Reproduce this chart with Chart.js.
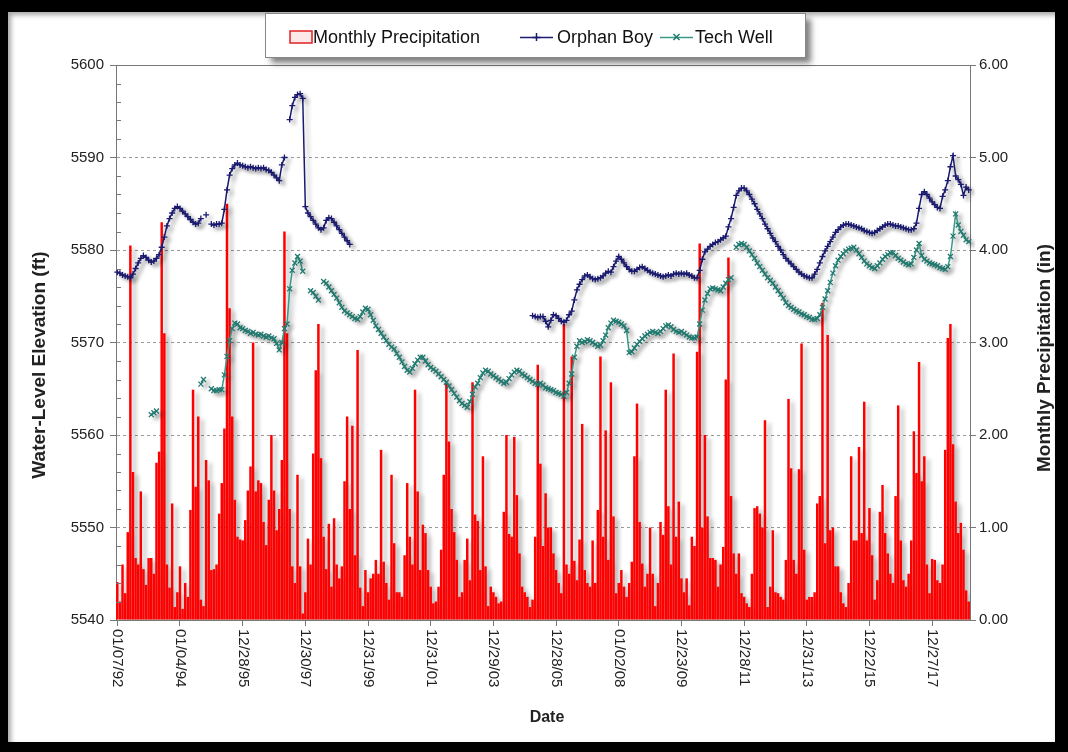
<!DOCTYPE html>
<html>
<head>
<meta charset="utf-8">
<script src="https://cdn.jsdelivr.net/npm/chart.js@4.4.1/dist/chart.umd.min.js"></script>
<style>
  html, body { margin: 0; padding: 0; background: #000; }
  #frame {
    position: absolute; left: 8px; top: 12px; width: 1047px; height: 730px;
    background: #fff; box-shadow: inset 3px 3px 5px rgba(0,0,0,0.35);
  }
  #chart { position: absolute; left: 0; top: 0; }
</style>
</head>
<body>
<div id="frame"><canvas id="chart" width="1047" height="730"></canvas></div>
<script>
const FONT = '"Liberation Sans", Arial, sans-serif';

// tick labels on the date axis, one every 24 months
const tickDates = ['01/07/92', '01/04/94', '12/28/95', '12/30/97', '12/31/99', '12/31/01', '12/29/03',
  '12/28/05', '01/02/08', '12/23/09', '12/28/11', '12/31/13', '12/22/15', '12/27/17'];

// monthly precipitation (in), Jan 1992 .. Mar 2019
const precipitation = [
  0.41, 0.2, 0.6, 0.29, 0.95, 4.05, 1.6, 0.67, 0.6, 1.39, 0.55, 0.38,      // 1992
  0.67, 0.67, 0.5, 1.7, 1.82, 4.3, 3.1, 0.6, 0.35, 1.26, 0.14, 0.3,        // 1993
  0.58, 0.12, 0.4, 0.25, 1.19, 2.49, 1.44, 2.2, 0.22, 0.15, 1.73, 1.51,    // 1994
  0.54, 0.55, 0.6, 1.15, 1.48, 2.07, 4.5, 3.37, 2.2, 1.3, 0.9, 0.87,       // 1995
  0.86, 1.08, 1.4, 1.66, 3.0, 1.39, 1.51, 1.48, 1.06, 0.81, 1.3, 2.0,      // 1996
  1.4, 0.97, 1.2, 1.73, 4.2, 3.1, 1.2, 0.58, 0.4, 1.57, 0.58, 0.07,        // 1997
  0.3, 0.88, 0.6, 1.8, 2.7, 3.2, 1.75, 0.9, 0.55, 1.04, 0.36, 1.1,         // 1998
  0.6, 0.45, 0.58, 1.5, 2.2, 1.2, 2.1, 0.7, 2.92, 0.35, 0.15, 0.54,        // 1999
  0.3, 0.45, 0.5, 0.65, 0.5, 1.84, 0.63, 0.4, 0.22, 1.57, 0.83, 0.3,       // 2000
  0.3, 0.25, 0.7, 1.48, 0.9, 0.6, 2.49, 1.39, 0.54, 1.03, 0.94, 0.54,      // 2001
  0.36, 0.18, 0.2, 0.36, 0.76, 1.57, 2.56, 1.93, 1.2, 0.95, 0.65, 0.25,    // 2002
  0.3, 0.65, 0.88, 0.43, 2.57, 1.14, 1.07, 0.54, 1.77, 0.58, 0.15, 0.36,   // 2003
  0.3, 0.25, 0.18, 0.2, 1.17, 2.0, 0.93, 0.9, 1.98, 1.35, 0.72, 0.36,      // 2004
  0.3, 0.25, 0.14, 0.22, 0.9, 2.76, 1.69, 0.8, 1.37, 1.0, 1.0, 0.72,       // 2005
  0.54, 0.4, 0.29, 3.2, 0.6, 0.5, 2.85, 0.64, 0.43, 0.87, 2.12, 0.54,      // 2006
  0.4, 0.36, 0.86, 0.4, 1.19, 2.85, 0.9, 2.05, 0.65, 2.57, 1.12, 0.29,     // 2007
  0.4, 0.54, 0.36, 0.25, 0.4, 0.63, 1.77, 2.34, 1.06, 0.61, 0.36, 0.5,     // 2008
  1.0, 0.5, 0.15, 0.4, 1.06, 0.92, 2.49, 1.23, 0.6, 2.88, 0.9, 1.28,       // 2009
  0.45, 0.3, 0.45, 0.16, 0.9, 0.8, 2.9, 4.07, 1.0, 2.0, 1.12, 0.67,        // 2010
  0.67, 0.65, 0.36, 0.6, 0.79, 2.6, 3.92, 1.34, 0.72, 0.5, 0.72, 0.29,     // 2011
  0.25, 0.18, 0.14, 0.5, 1.21, 1.23, 1.15, 1.0, 2.16, 0.14, 0.36, 0.97,    // 2012
  0.3, 0.29, 0.25, 0.22, 0.65, 2.39, 1.64, 0.65, 0.5, 1.63, 2.99, 0.76,    // 2013
  0.22, 0.25, 0.25, 0.3, 1.26, 1.34, 3.43, 0.83, 3.08, 0.97, 1.0, 0.58,    // 2014
  0.58, 0.3, 0.18, 0.14, 0.4, 1.77, 0.86, 0.86, 1.87, 0.94, 2.36, 0.86,    // 2015
  1.21, 0.7, 0.22, 0.43, 1.17, 1.46, 0.94, 0.72, 0.5, 0.4, 1.34, 2.32,     // 2016
  0.86, 0.43, 0.36, 0.5, 0.86, 2.04, 1.59, 2.79, 1.5, 1.77, 0.6, 0.29,     // 2017
  0.66, 0.65, 0.43, 0.4, 0.6, 1.84, 3.05, 3.2, 1.9, 1.28, 0.94, 1.05,      // 2018
  0.76, 0.32, 0.2                                                          // 2019
];

// Orphan Boy water level (ft), same months, null = no reading
const orphanBoy = [
  5577.6, 5577.5, 5577.3, 5577.2, 5577.1, 5577.0, 5577.4, 5578.0, 5578.6, 5579.1, 5579.4, 5579.2,
  5578.9, 5578.7, 5578.8, 5579.1, 5579.5, 5580.3, 5581.4, 5582.6, 5583.4, 5584.0, 5584.5, 5584.7,
  5584.5, 5584.2, 5583.9, 5583.6, 5583.3, 5583.0, 5582.8, 5582.9, 5583.4, null, 5583.8, null,
  5582.8, 5582.7, 5582.8, 5582.8, 5582.9, 5584.4, 5586.5, 5588.1, 5588.8, 5589.2, 5589.4, 5589.2,
  5589.1, 5589.0, 5588.9, 5589.0, 5588.9, 5588.8, 5588.9, 5588.8, 5588.9, 5588.7, 5588.6, 5588.4,
  5588.1, 5587.8, 5587.5, 5589.2, 5590.0, null, 5594.1, 5595.6, 5596.5, 5596.8, 5596.9, 5596.4,
  5584.7, 5584.0, 5583.6, 5583.2, 5582.8, 5582.4, 5582.2, 5582.4, 5583.2, 5583.5, 5583.4, 5583.0,
  5582.6, 5582.2, 5581.8, 5581.4, 5581.0, 5580.6, null, null, null, null, null, null,
  null, null, null, null, null, null, null, null, null, null, null, null,
  null, null, null, null, null, null, null, null, null, null, null, null,
  null, null, null, null, null, null, null, null, null, null, null, null,
  null, null, null, null, null, null, null, null, null, null, null, null,
  null, null, null, null, null, null, null, null, null, null, null, null,
  null, null, null, 5572.9, 5572.8, 5572.7, 5572.8, 5572.8, 5572.3, 5571.7, 5572.4, 5573.0,
  5572.9, 5572.6, 5572.3, 5572.2, 5572.4, 5573.0, 5573.4, 5574.6, 5575.7, 5576.3, 5576.8, 5577.2,
  5577.3, 5577.1, 5576.9, 5576.8, 5576.9, 5577.0, 5577.2, 5577.5, 5577.7, 5577.6, 5578.2, 5578.8,
  5579.3, 5579.0, 5578.6, 5578.2, 5577.9, 5577.7, 5577.7, 5577.9, 5578.1, 5578.2, 5578.0, 5577.8,
  5577.6, 5577.5, 5577.4, 5577.3, 5577.2, 5577.1, 5577.2, 5577.3, 5577.2, 5577.4, 5577.5, 5577.4,
  5577.5, 5577.4, 5577.5, 5577.3, 5577.2, 5577.0, 5577.0, 5577.8, 5579.0, 5579.8, 5580.1, 5580.4,
  5580.6, 5580.8, 5580.9, 5581.1, 5581.3, 5581.5, 5582.5, 5583.4, 5584.6, 5585.9, 5586.4, 5586.7,
  5586.7, 5586.4, 5586.0, 5585.5, 5585.0, 5584.4, 5583.9, 5583.4, 5582.8, 5582.3, 5581.8, 5581.3,
  5580.9, 5580.4, 5580.0, 5579.5, 5579.1, 5578.8, 5578.5, 5578.2, 5577.9, 5577.6, 5577.4, 5577.2,
  5577.1, 5577.0, 5577.0, 5577.4, 5577.9, 5578.6, 5579.3, 5579.9, 5580.4, 5580.9, 5581.4, 5581.9,
  5582.2, 5582.5, 5582.7, 5582.8, 5582.8, 5582.7, 5582.6, 5582.5, 5582.4, 5582.3, 5582.1, 5582.0,
  5581.9, 5581.8, 5581.9, 5582.1, 5582.3, 5582.5, 5582.7, 5582.8, 5582.8, 5582.7, 5582.6, 5582.6,
  5582.5, 5582.4, 5582.3, 5582.2, 5582.2, 5582.3, 5582.9, 5584.5, 5586.0, 5586.3, 5586.0, 5585.6,
  5585.2, 5584.9, 5584.6, 5584.5, 5585.8, 5586.5, 5587.5, 5589.0, 5590.2, 5588.0, 5587.6, 5587.1,
  5585.9, 5586.8, 5586.5
];

// Tech Well water level (ft)
const techWell = [
  null, null, null, null, null, null, null, null, null, null, null, null,
  null, 5562.2, 5562.4, 5562.6, null, null, null, null, null, null, null, null,
  null, null, null, null, null, null, null, null, 5565.5, 5566.0, null, null,
  5565.0, 5564.8, 5564.8, 5564.9, 5564.9, 5566.5, 5568.5, 5570.2, 5571.5, 5572.1, 5572.0, 5571.6,
  5571.5, 5571.3, 5571.2, 5571.0, 5571.1, 5570.9, 5570.8, 5570.9, 5570.7, 5570.6, 5570.7, 5570.5,
  5570.4, 5569.9, 5569.2, 5570.0, 5571.5, 5572.0, 5575.8, 5577.8, 5578.6, 5579.3, 5578.8, 5577.7,
  null, null, 5575.6, 5575.4, 5575.0, 5574.6, null, 5576.6, 5576.4, 5576.0, 5575.6, 5575.2,
  5574.8, 5574.3, 5573.8, 5573.4, 5573.2, 5573.0, 5572.8, 5572.6, 5572.5, 5572.8, 5573.3, 5573.7,
  5573.6, 5573.0, 5572.4, 5571.8, 5571.4, 5571.0, 5570.6, 5570.2, 5569.8, 5569.5, 5569.3, 5568.8,
  5568.4, 5567.9, 5567.4, 5567.0, 5566.8, 5567.2, 5567.7, 5568.1, 5568.4, 5568.4, 5568.0, 5567.6,
  5567.3, 5567.1, 5566.9, 5566.6, 5566.3, 5566.0, 5565.7, 5565.3, 5564.9, 5564.5, 5564.1, 5563.7,
  5563.4, 5563.2, 5563.0, 5563.6, 5564.4, 5565.2, 5565.6, 5566.2, 5566.7, 5567.0, 5566.9, 5566.6,
  5566.4, 5566.2, 5566.0, 5565.8, 5565.6, 5565.7, 5566.1, 5566.5, 5566.8, 5567.0, 5566.9, 5566.6,
  5566.4, 5566.2, 5566.0, 5565.8, 5565.6, 5565.5, 5565.6, 5565.4, 5565.1, 5565.0, 5564.9, 5564.8,
  5564.6, 5564.5, 5564.4, 5564.2, 5564.6, 5565.6, 5566.6, 5568.4, 5569.6, 5570.2, 5570.0, 5570.1,
  5570.3, 5570.2, 5570.0, 5569.8, 5569.6, 5569.7, 5570.2, 5570.8, 5571.6, 5572.1, 5572.4, 5572.3,
  5572.2, 5572.0, 5571.8, 5571.3, 5568.9, 5569.0, 5569.4, 5569.8, 5570.1, 5570.4, 5570.7, 5570.9,
  5571.1, 5571.2, 5571.1, 5571.0, 5571.2, 5571.5, 5571.8, 5571.9, 5571.7, 5571.4, 5571.2, 5571.1,
  5571.2, 5571.0, 5570.8, 5570.6, 5570.5, 5570.5, 5570.6, 5572.0, 5573.5, 5574.6, 5575.3, 5575.8,
  5575.9, 5575.8, 5575.7, 5575.6, 5576.0, 5576.4, 5576.8, 5577.0, null, 5580.3, 5580.6, 5580.7,
  5580.6, 5580.3, 5579.9, 5579.5, 5579.1, 5578.6, 5578.2, 5577.8, 5577.4, 5577.0, 5576.7, 5576.4,
  5576.0, 5575.6, 5575.2, 5574.8, 5574.3, 5574.0, 5573.8, 5573.6, 5573.4, 5573.3, 5573.1, 5573.0,
  5572.8, 5572.7, 5572.5, 5572.5, 5572.6, 5573.0, 5573.8, 5574.7, 5575.6, 5576.5, 5577.5, 5578.3,
  5578.9, 5579.3, 5579.6, 5579.9, 5580.1, 5580.2, 5580.3, 5580.0, 5579.6, 5579.2, 5578.8, 5578.5,
  5578.3, 5578.1, 5578.0, 5578.3, 5578.6, 5579.0, 5579.3, 5579.5, 5579.7, 5579.7, 5579.4, 5579.1,
  5578.9, 5578.7, 5578.5, 5578.4, 5578.5, 5579.2, 5580.0, 5580.7, 5579.4, 5579.0, 5578.8, 5578.6,
  5578.5, 5578.4, 5578.3, 5578.1, 5578.0, 5577.9, 5578.2, 5579.3, 5581.5, 5583.9, 5582.7, 5582.0,
  5581.6, 5581.1, 5580.9
];

// one category per month
const months = [];
for (let i = 0; i < precipitation.length; i++) {
  months.push((i % 12 + 1) + '/' + (1992 + Math.floor(i / 12)));
}

const legendItems = [
  { label: 'Monthly Precipitation', kind: 'bar', x: 282, text: 305 },
  { label: 'Orphan Boy', kind: 'ob', x: 512, text: 549 },
  { label: 'Tech Well', kind: 'tw', x: 652, text: 687 }
];

const shade = {
  id: 'shade',
  beforeDatasetDraw(chart, args) {
    const ctx = chart.ctx;
    ctx.save();
    ctx.shadowColor = args.meta.type === 'bar' ? 'rgba(0,0,0,0.3)' : 'rgba(0,0,0,0.3)';
    ctx.shadowBlur = 4;
    ctx.shadowOffsetX = 4;
    ctx.shadowOffsetY = 3;
  },
  afterDatasetDraw(chart) {
    chart.ctx.restore();
  }
};

const decor = {
  id: 'decor',
  afterDraw(chart) {
    const { ctx, chartArea: a, scales } = chart;
    ctx.save();

    // top edge of the plot area
    ctx.strokeStyle = '#777';
    ctx.lineWidth = 1;
    ctx.beginPath();
    ctx.moveTo(a.left, Math.round(a.top) + 0.5);
    ctx.lineTo(a.right, Math.round(a.top) + 0.5);
    ctx.stroke();

    // minor ticks on the left axis
    for (let v = 5542; v < 5600; v += 2) {
      if (v % 10 === 0) continue;
      const py = Math.round(scales.y.getPixelForValue(v)) + 0.5;
      ctx.beginPath();
      ctx.moveTo(a.left, py);
      ctx.lineTo(a.left + 5, py);
      ctx.stroke();
    }

    // date labels, turned to read downward
    ctx.fillStyle = '#222';
    ctx.font = '15px ' + FONT;
    ctx.textAlign = 'left';
    ctx.textBaseline = 'middle';
    tickDates.forEach((lab, i) => {
      const px = scales.x.getPixelForValue(i * 24);
      ctx.save();
      ctx.translate(px, a.bottom + 9);
      ctx.rotate(Math.PI / 2);
      ctx.fillText(lab, 0, 0);
      ctx.restore();
    });

    // axis titles
    ctx.font = 'bold 16px ' + FONT;
    ctx.textAlign = 'center';
    ctx.fillText('Date', (a.left + a.right) / 2 + 4, 706);

    ctx.font = 'bold 19px ' + FONT;
    ctx.save();
    ctx.translate(32, 353);
    ctx.rotate(-Math.PI / 2);
    ctx.fillText('Water-Level Elevation (ft)', 0, 0);
    ctx.restore();
    ctx.save();
    ctx.translate(1037, 346);
    ctx.rotate(-Math.PI / 2);
    ctx.fillText('Monthly Precipitation (in)', 0, 0);
    ctx.restore();

    // legend box
    const bx = 257, by = 1, bw = 540, bh = 44;
    ctx.save();
    ctx.shadowColor = 'rgba(0,0,0,0.5)';
    ctx.shadowBlur = 6;
    ctx.shadowOffsetX = 6;
    ctx.shadowOffsetY = 6;
    ctx.fillStyle = '#fff';
    ctx.fillRect(bx, by, bw, bh);
    ctx.restore();
    ctx.strokeStyle = '#888';
    ctx.strokeRect(bx + 0.5, by + 0.5, bw, bh);

    const cy = 25;
    legendItems.forEach(it => {
      if (it.kind === 'bar') {
        ctx.fillStyle = '#fde8e8';
        ctx.fillRect(it.x, cy - 6, 22, 12);
        ctx.strokeStyle = '#e02020';
        ctx.lineWidth = 1.5;
        ctx.strokeRect(it.x, cy - 6, 22, 12);
      } else {
        const col = it.kind === 'ob' ? '#1a1a70' : '#3a9a8a';
        ctx.strokeStyle = col;
        ctx.lineWidth = 1.5;
        ctx.beginPath();
        ctx.moveTo(it.x, cy + 0.5);
        ctx.lineTo(it.x + 33, cy + 0.5);
        ctx.stroke();
        const mx = it.x + 16.5;
        ctx.strokeStyle = it.kind === 'ob' ? '#1a1a70' : '#217a70';
        ctx.beginPath();
        if (it.kind === 'ob') {
          ctx.moveTo(mx - 4, cy + 0.5); ctx.lineTo(mx + 4, cy + 0.5);
          ctx.moveTo(mx, cy - 4); ctx.lineTo(mx, cy + 4);
        } else {
          ctx.moveTo(mx - 3, cy - 3); ctx.lineTo(mx + 3, cy + 3);
          ctx.moveTo(mx - 3, cy + 3); ctx.lineTo(mx + 3, cy - 3);
        }
        ctx.stroke();
      }
      ctx.fillStyle = '#111';
      ctx.font = '18px ' + FONT;
      ctx.textAlign = 'left';
      ctx.textBaseline = 'middle';
      ctx.fillText(it.label, it.text, cy + 1);
    });

    ctx.restore();
  }
};

new Chart(document.getElementById('chart'), {
  type: 'bar',
  data: {
    labels: months,
    datasets: [
      {
        type: 'line',
        label: 'Orphan Boy',
        data: orphanBoy,
        yAxisID: 'y',
        borderColor: '#1a1a70',
        borderWidth: 1.5,
        pointStyle: 'cross',
        pointRadius: 3,
        pointBorderColor: '#1a1a70',
        pointBorderWidth: 1.3,
        spanGaps: false,
        order: 1
      },
      {
        type: 'line',
        label: 'Tech Well',
        data: techWell,
        yAxisID: 'y',
        borderColor: '#3a9a8a',
        borderWidth: 1.5,
        pointStyle: 'crossRot',
        pointRadius: 3.5,
        pointBorderColor: '#217a70',
        pointBorderWidth: 1.3,
        spanGaps: false,
        order: 2
      },
      {
        type: 'bar',
        label: 'Monthly Precipitation',
        data: precipitation,
        yAxisID: 'y1',
        backgroundColor: '#ff0000',
        borderWidth: 0,
        barPercentage: 0.95,
        categoryPercentage: 1,
        order: 3
      }
    ]
  },
  options: {
    responsive: false,
    animation: false,
    devicePixelRatio: 1,
    layout: { padding: { top: 53, left: 0, right: 0, bottom: 0 } },
    plugins: {
      legend: { display: false },
      tooltip: { enabled: false }
    },
    scales: {
      x: {
        type: 'category',
        offset: true,
        grid: {
          drawOnChartArea: false,
          drawTicks: true,
          tickLength: 6,
          offset: false,
          color: c => (c.index % 24 === 0 ? '#777' : 'rgba(0,0,0,0)')
        },
        border: { display: true, color: '#777' },
        ticks: { display: false, autoSkip: false },
        afterFit: s => { s.height = 122; }
      },
      y: {
        position: 'left',
        min: 5540,
        max: 5600,
        ticks: {
          stepSize: 10, color: '#222', padding: 6, font: { family: FONT, size: 15 },
          callback: v => String(v)
        },
        grid: { color: '#9a9a9a', tickColor: '#777', tickLength: 6 },
        border: { display: true, color: '#777', dash: [3, 3] },
        afterFit: s => { s.width = 108; }
      },
      y1: {
        position: 'right',
        min: 0,
        max: 6,
        ticks: {
          stepSize: 1, color: '#222', padding: 3, font: { family: FONT, size: 15 },
          callback: v => v.toFixed(2)
        },
        grid: { drawOnChartArea: false, color: '#777', tickLength: 6 },
        border: { display: true, color: '#777' },
        afterFit: s => { s.width = 85; }
      }
    }
  },
  plugins: [shade, decor]
});
</script>
</body>
</html>
